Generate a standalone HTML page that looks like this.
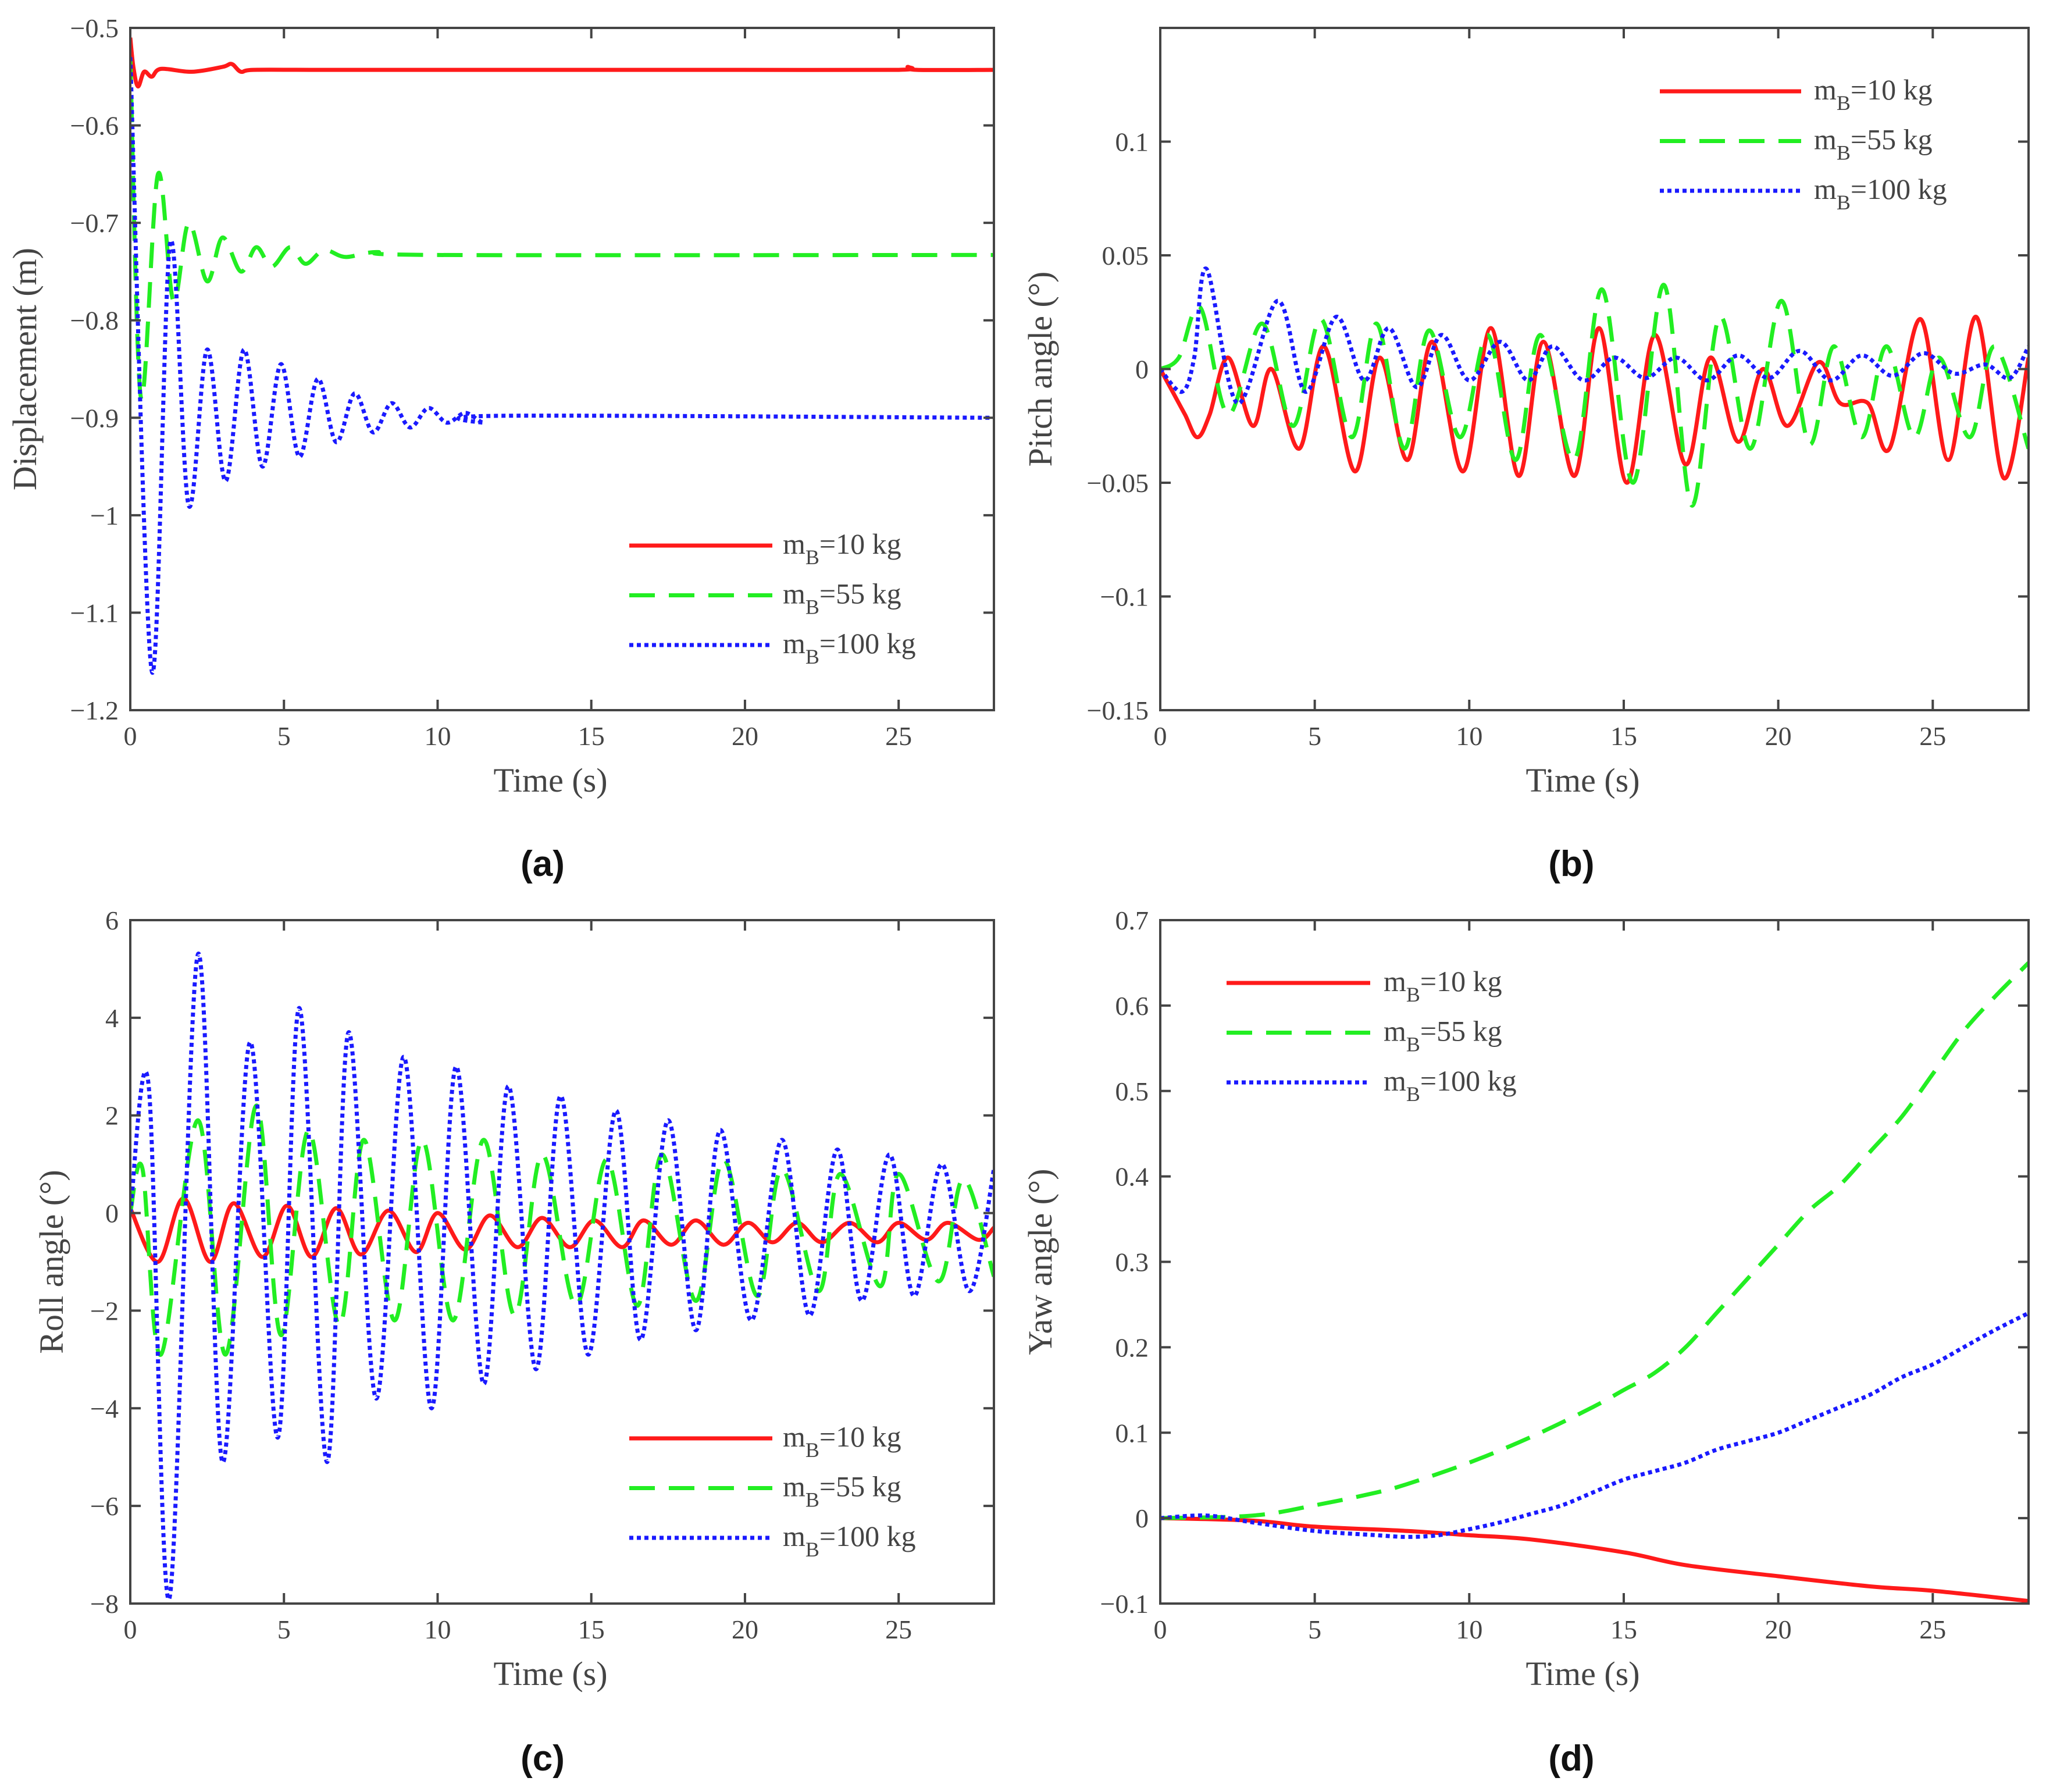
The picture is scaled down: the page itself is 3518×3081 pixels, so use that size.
<!DOCTYPE html>
<html><head><meta charset="utf-8"><style>
html,body{margin:0;padding:0;background:#fff}
svg{display:block}
text{font-family:"Liberation Serif",serif;fill:#444}
</style></head><body>
<svg id="fig" width="3518" height="3081" viewBox="0 0 3518 3081" xmlns="http://www.w3.org/2000/svg"></svg>
<script>
// ---- Data (time in s) ----
const aRedT=[0,0.1,0.25,0.45,0.7,1,2,3,3.3,3.6,4,6,10,15,20,25,25.3,25.6,28.1];
const aRedV=[-0.51,-0.54,-0.56,-0.545,-0.55,-0.542,-0.545,-0.54,-0.537,-0.545,-0.543,-0.543,-0.543,-0.543,-0.543,-0.543,-0.54,-0.543,-0.543];
const aGrnT=[0,0.35,0.9,1.4,1.9,2.5,3.0,3.6,4.1,4.6,5.2,5.7,6.3,7,8,10,28.1];
const aGrnV=[-0.53,-0.88,-0.65,-0.78,-0.70,-0.76,-0.715,-0.75,-0.725,-0.745,-0.725,-0.742,-0.728,-0.735,-0.73,-0.733,-0.733];
const aBluT=[0,0.7,1.3,1.9,2.5,3.1,3.7,4.3,4.9,5.5,6.1,6.7,7.3,7.9,8.5,9.1,9.7,10.3,10.9,11.5,12,28.1];
const aBluV=[-0.53,-1.16,-0.72,-0.99,-0.83,-0.965,-0.83,-0.95,-0.845,-0.94,-0.86,-0.925,-0.875,-0.915,-0.885,-0.91,-0.89,-0.905,-0.895,-0.905,-0.898,-0.9];

const bRedT=[0,0.4,0.8,1.2,1.6,2.2,3,3.6,4.5,5.3,6.3,7.1,8,8.8,9.8,10.7,11.6,12.4,13.4,14.2,15.1,16,17,17.8,18.7,19.5,20.3,21.3,22,22.9,23.6,24.6,25.5,26.4,27.3,28.1];
const bRedV=[0,-0.01,-0.02,-0.03,-0.02,0.005,-0.025,0,-0.035,0.01,-0.045,0.005,-0.04,0.012,-0.045,0.018,-0.047,0.012,-0.047,0.018,-0.05,0.015,-0.042,0.005,-0.032,0,-0.025,0.003,-0.015,-0.015,-0.035,0.022,-0.04,0.023,-0.048,0.005];
const bGrnT=[0,0.6,1.3,2.2,3.3,4.3,5.2,6.2,7,7.9,8.7,9.7,10.6,11.5,12.3,13.4,14.3,15.3,16.3,17.2,18.1,19.1,20.1,21,21.8,22.7,23.5,24.4,25.2,26.2,27,28.1];
const bGrnV=[0,0.005,0.027,-0.02,0.02,-0.025,0.022,-0.03,0.02,-0.035,0.017,-0.03,0.015,-0.04,0.015,-0.04,0.035,-0.05,0.037,-0.06,0.023,-0.035,0.03,-0.033,0.01,-0.03,0.01,-0.03,0.005,-0.03,0.01,-0.035];
const bBluT=[0,0.7,1.1,1.5,2.5,3.8,4.7,5.7,6.6,7.4,8.3,9.1,10,11,11.9,12.7,13.7,14.7,15.7,16.7,17.7,18.7,19.7,20.7,21.7,22.7,23.7,24.7,25.7,26.7,27.5,28.1];
const bBluV=[0,-0.01,0.005,0.044,-0.015,0.03,-0.01,0.023,-0.005,0.018,-0.008,0.015,-0.005,0.012,-0.005,0.01,-0.005,0.005,-0.004,0.005,-0.005,0.006,-0.004,0.008,-0.005,0.006,-0.003,0.007,-0.002,0.002,-0.004,0.01];

const cRedT=[0,0.9,1.73,2.6,3.36,4.3,5.1,5.9,6.7,7.5,8.4,9.3,10,10.9,11.7,12.6,13.4,14.3,15.1,16,16.7,17.6,18.4,19.3,20.1,20.9,21.7,22.5,23.4,24.3,25,25.9,26.6,27.6,28.1];
const cRedV=[0.1,-1.0,0.3,-1.0,0.2,-0.9,0.15,-0.9,0.1,-0.85,0.05,-0.8,0,-0.75,-0.05,-0.7,-0.1,-0.7,-0.15,-0.7,-0.15,-0.65,-0.15,-0.65,-0.2,-0.6,-0.2,-0.6,-0.2,-0.6,-0.2,-0.55,-0.2,-0.55,-0.3];
const cGrnT=[0,0.4,1.0,2.2,3.1,4.1,4.9,5.8,6.8,7.6,8.6,9.5,10.5,11.5,12.5,13.4,14.5,15.5,16.5,17.3,18.4,19.3,20.4,21.2,22.4,23.1,24.4,25,26.3,27.1,28.1];
const cGrnV=[0,0.9,-2.9,1.9,-2.9,2.2,-2.5,1.7,-2.3,1.5,-2.2,1.5,-2.2,1.5,-2.1,1.2,-1.9,1.1,-1.9,1.2,-1.8,1.1,-1.7,0.9,-1.6,0.8,-1.5,0.8,-1.4,0.7,-1.3];
const cBluT=[0,0.6,1.27,2.2,3.0,3.9,4.8,5.5,6.4,7.1,8.0,8.9,9.8,10.6,11.5,12.3,13.2,14,14.9,15.8,16.6,17.5,18.4,19.2,20.2,21.2,22.1,23,23.8,24.7,25.5,26.4,27.3,28.1];
const cBluV=[0,2.6,-7.9,5.3,-5.1,3.5,-4.6,4.2,-5.1,3.7,-3.8,3.2,-4.0,3.0,-3.5,2.6,-3.2,2.4,-2.9,2.1,-2.6,1.9,-2.4,1.7,-2.2,1.5,-2.1,1.3,-1.8,1.2,-1.7,1.0,-1.6,0.9];

const dRedT=[0,3,5,8,10,12,15,17,20,23,25,28.1];
const dRedV=[0,-0.003,-0.01,-0.015,-0.02,-0.025,-0.04,-0.055,-0.068,-0.08,-0.085,-0.097];
const dGrnT=[0,3,5,7,8,10,12,14,15,16,17,18,19,20,21,22,23,24,25,26,27,28.1];
const dGrnV=[0,0.003,0.015,0.03,0.04,0.065,0.095,0.13,0.15,0.17,0.2,0.24,0.28,0.32,0.36,0.39,0.43,0.47,0.52,0.57,0.61,0.65];
const dBluT=[0,1.5,3,5,7,8,9,10,11,12,13,14,15,16,17,18,19,20,21,22,23,24,25,26,27,28.1];
const dBluV=[0,0.003,-0.005,-0.015,-0.02,-0.022,-0.02,-0.013,-0.005,0.005,0.015,0.03,0.045,0.055,0.065,0.08,0.09,0.1,0.115,0.13,0.145,0.165,0.18,0.2,0.22,0.24];

const xTicks=[0,5,10,15,20,25];
const aYTicks=[-0.5,-0.6,-0.7,-0.8,-0.9,-1,-1.1,-1.2];
const bYTicks=[0.1,0.05,0,-0.05,-0.1,-0.15];
const cYTicks=[6,4,2,0,-2,-4,-6,-8];
const dYTicks=[0.7,0.6,0.5,0.4,0.3,0.2,0.1,0,-0.1];

const NS='http://www.w3.org/2000/svg';
const svg=document.getElementById('fig');
function mk(tag,attrs,parent){const e=document.createElementNS(NS,tag);for(const k in attrs)e.setAttribute(k,attrs[k]);(parent||svg).appendChild(e);return e;}
function fmt(v){let s=String(v);if(s.startsWith('-'))s='\u2212'+s.slice(1);return s;}
const colors={r:'#ff1a1a',g:'#22ee22',b:'#1a1aff'};
const styles={r:'',g:'44 24',b:'7 6'};

function panel(id,box,ymin,ymax,yTicks,ylabel,ylabelX,series,legend,plabel,plabelX,plabelY){
  const g=mk('g',{});
  
  
  const xs=t=>box.x0+(t/28.1)*(box.x1-box.x0);
  const ys=v=>box.y1-(v-ymin)/(ymax-ymin)*(box.y1-box.y0);
  // series
  const clip=mk('clipPath',{id:'clip'+id},g);
  mk('rect',{x:box.x0,y:box.y0,width:box.x1-box.x0,height:box.y1-box.y0},clip);
  series.forEach(s=>{
    const P=s.t.map((t,i)=>[xs(t),ys(s.v[i])]);
    let d='M'+P[0][0].toFixed(1)+','+P[0][1].toFixed(1);
    for(let i=0;i<P.length-1;i++){
      const p0=P[Math.max(0,i-1)],p1=P[i],p2=P[i+1],p3=P[Math.min(P.length-1,i+2)];
      const c1=[p1[0]+(p2[0]-p0[0])/6,p1[1]+(p2[1]-p0[1])/6];
      const c2=[p2[0]-(p3[0]-p1[0])/6,p2[1]-(p3[1]-p1[1])/6];
      d+=' C'+c1[0].toFixed(1)+','+c1[1].toFixed(1)+' '+c2[0].toFixed(1)+','+c2[1].toFixed(1)+' '+p2[0].toFixed(1)+','+p2[1].toFixed(1);
    }
    const p=mk('path',{d:d,fill:'none',stroke:colors[s.c],'stroke-width':7,'stroke-dasharray':styles[s.c],'clip-path':'url(#clip'+id+')'},g);
    
    
  });
  // frame
  const fr=mk('rect',{x:box.x0,y:box.y0,width:box.x1-box.x0,height:box.y1-box.y0,fill:'none',stroke:'#444','stroke-width':4},g);
  
  
  xTicks.forEach(t=>{
    const x=xs(t);
    mk('line',{x1:x,x2:x,y1:box.y1,y2:box.y1-18,stroke:'#444','stroke-width':4},g);
    mk('line',{x1:x,x2:x,y1:box.y0,y2:box.y0+18,stroke:'#444','stroke-width':4},g);
    const tx=mk('text',{x:x,y:box.y1+60,'font-size':46,'text-anchor':'middle'},g);
    tx.textContent=t;
    
    
  });
  yTicks.forEach(v=>{
    const y=ys(v);
    mk('line',{x1:box.x0,x2:box.x0+18,y1:y,y2:y,stroke:'#444','stroke-width':4},g);
    mk('line',{x1:box.x1,x2:box.x1-18,y1:y,y2:y,stroke:'#444','stroke-width':4},g);
    const tx=mk('text',{x:box.x0-20,y:y+16,'font-size':46,'text-anchor':'end'},g);
    tx.textContent=fmt(v);
    
    
  });
  const xt=mk('text',{x:(box.x0+box.x1)/2-20,y:box.y1+140,'font-size':58,'text-anchor':'middle'},g);
  xt.textContent='Time (s)';
  
  
  const yc=(box.y0+box.y1)/2;
  const yt=mk('text',{x:ylabelX,y:yc,'font-size':58,'text-anchor':'middle',transform:'rotate(-90 '+ylabelX+' '+yc+')'},g);
  yt.textContent=ylabel;
  
  
  // legend
  const labels=['10','55','100'];
  ['r','g','b'].forEach((c,i)=>{
    const y=legend.y+i*85.5;
    const ln=mk('line',{x1:legend.x1,x2:legend.x2,y1:y,y2:y,stroke:colors[c],'stroke-width':7,'stroke-dasharray':styles[c]},g);
    
    
    const tx=mk('text',{x:legend.tx,y:y+14,'font-size':50},g);
    
    
    tx.appendChild(document.createTextNode('m'));
    const sub=mk('tspan',{dy:18,'font-size':36},tx);sub.textContent='B';
    const rest=mk('tspan',{dy:-18},tx);rest.textContent='='+labels[i]+' kg';
  });
  const pl=mk('text',{x:plabelX,y:plabelY,'font-size':62,'font-weight':'bold','text-anchor':'middle',style:'font-family:"Liberation Sans",sans-serif;fill:#111'},g);
  pl.textContent=plabel;
  
  
}

panel('a',{x0:224,x1:1709,y0:48,y1:1221},-1.2,-0.5,aYTicks,'Displacement (m)',62,
  [{t:aRedT,v:aRedV,c:'r',name:'10kg'},{t:aGrnT,v:aGrnV,c:'g',name:'55kg'},{t:aBluT,v:aBluV,c:'b',name:'100kg'}],
  {x1:1082,x2:1328,y:938,tx:1346},'(a)',933,1506);
panel('b',{x0:1995,x1:3488,y0:48,y1:1221},-0.15,0.15,bYTicks,'Pitch angle (\u00b0)',1808,
  [{t:bRedT,v:bRedV,c:'r',name:'10kg'},{t:bGrnT,v:bGrnV,c:'g',name:'55kg'},{t:bBluT,v:bBluV,c:'b',name:'100kg'}],
  {x1:2854,x2:3097,y:157,tx:3119},'(b)',2702,1506);
panel('c',{x0:224,x1:1709,y0:1582,y1:2757},-8,6,cYTicks,'Roll angle (\u00b0)',108,
  [{t:cRedT,v:cRedV,c:'r',name:'10kg'},{t:cGrnT,v:cGrnV,c:'g',name:'55kg'},{t:cBluT,v:cBluV,c:'b',name:'100kg'}],
  {x1:1082,x2:1328,y:2473,tx:1346},'(c)',933,3044);
panel('d',{x0:1995,x1:3488,y0:1582,y1:2757},-0.1,0.7,dYTicks,'Yaw angle (\u00b0)',1808,
  [{t:dRedT,v:dRedV,c:'r',name:'10kg'},{t:dGrnT,v:dGrnV,c:'g',name:'55kg'},{t:dBluT,v:dBluV,c:'b',name:'100kg'}],
  {x1:2109,x2:2356,y:1690,tx:2379},'(d)',2702,3044);
</script>
</body></html>
